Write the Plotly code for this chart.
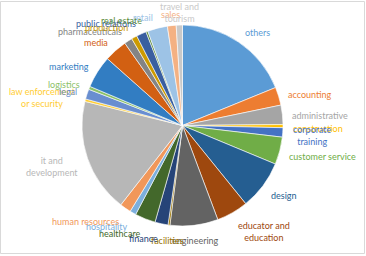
import math
import plotly.graph_objects as go

categories = ["others", "accounting", "administrative", "construction", "corporate<br>training",
              "customer service", "design", "educator and<br>education", "engineering", "facilities",
              "finance", "healthcare", "hospitality", "human resources", "it and<br>development",
              "law enforcement<br>or security", "legal", "logistics", "marketing", "media",
              "pharmaceuticals", "production", "public relations", "real estate", "retail",
              "sales", "travel and<br>tourism"]
values = [188, 29, 31, 5, 15, 44, 79, 51, 77, 3,
          21, 33, 10, 18, 183, 4, 16, 5, 52, 37,
          13, 9, 16, 3, 32, 14, 10]
colors = ["#5B9BD5", "#ED7D31", "#A5A5A5", "#FFC000", "#4472C4", "#70AD47",
          "#255E91", "#9E480E", "#636363", "#997300", "#264478", "#43682B",
          "#7CAFDD", "#F1975A", "#B7B7B7", "#FFCD33", "#698ED0", "#8CC168",
          "#327DC2", "#D26012", "#848484", "#CC9A00", "#3A5FA0", "#5A8A39",
          "#9DC3E6", "#F4B183", "#C9C9C9"]

W, H = 366, 256
CX, CY, R = 182.5, 125.5, 100.5
LABEL_GAP = 8
LINE_H = 11

fig = go.Figure(go.Pie(
    labels=[c.replace("<br>", " ") for c in categories],
    values=values,
    marker=dict(colors=colors, line=dict(color="white", width=0.6)),
    sort=False, direction="clockwise", rotation=0,
    textinfo="none", hoverinfo="label+value+percent",
    domain=dict(x=[(CX - R) / W, (CX + R) / W], y=[1 - (CY + R) / H, 1 - (CY - R) / H]),
    showlegend=False,
))

total = sum(values)
cum = 0.0
annotations = []
for cat, v, col in zip(categories, values, colors):
    mid = (cum + v / 2) / total * 2 * math.pi
    cum += v
    s, c = math.sin(mid), math.cos(mid)
    px = CX + (R + LABEL_GAP) * s
    py = CY - (R + LABEL_GAP) * c
    h = LINE_H * (cat.count("<br>") + 1)
    ly = py - (h / 2) * c + 2
    ly = max(ly, h / 2 + 1)
    ly = min(ly, H - 4 - h / 2)
    xa = "left" if s > 0.15 else ("right" if s < -0.15 else "center")
    annotations.append(dict(
        x=px / W, y=1 - ly / H, xref="paper", yref="paper",
        text=cat, showarrow=False, xanchor=xa, yanchor="middle", align="center",
        font=dict(family="Lato", size=9, color=col),
    ))

fig.update_layout(
    width=W, height=H,
    margin=dict(l=0, r=0, t=0, b=0),
    paper_bgcolor="white", plot_bgcolor="white",
    annotations=annotations,
    shapes=[dict(type="rect", xref="paper", yref="paper", x0=0.5 / W, x1=1 - 1.5 / W,
                 y0=2.5 / H, y1=1 - 1.5 / H, line=dict(color="#D9D9D9", width=1))],
)

fig.write_html("out.html", config={"displayModeBar": False},
               post_script="document.body.style.margin='0';")
